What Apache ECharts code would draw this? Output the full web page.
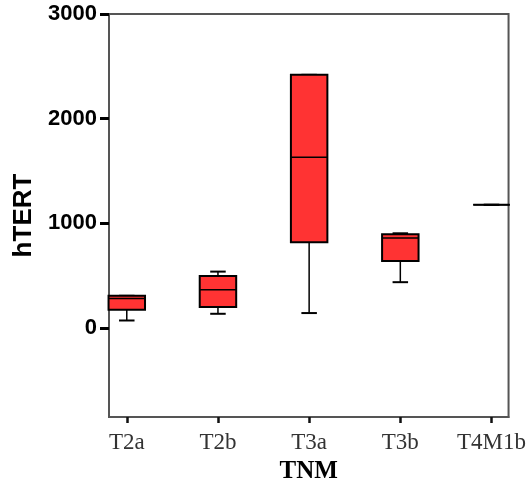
<!DOCTYPE html>
<html lang="en">
<head>
    <meta charset="UTF-8">
    <title>hTERT by TNM</title>
    <script src="https://cdn.jsdelivr.net/npm/echarts@6/dist/echarts.min.js"></script>
    <style>
        html, body { margin: 0; padding: 0; background: #fff; }
    </style>
</head>
<body>
<div id="main" style="width: 529px;height:495px;"></div>
<script type="text/javascript">
    // box statistics, one entry per TNM group
    var categories = ['T2a', 'T2b', 'T3a', 'T3b', 'T4M1b'];
    var lowWhisker = [72, 136, 143, 438, 1177];
    var q1Vals = [174, 200, 819, 641, 1177];
    var medians = [282, 365, 1631, 860, 1177];
    var q3Vals = [308, 498, 2419, 895, 1177];
    var highWhisker = [308, 539, 2419, 905, 1177];
    var yTicks = [0, 1000, 2000, 3000];

    var boxData = [];
    for (var i = 0; i < categories.length; i++) {
        boxData.push([i, lowWhisker[i], q1Vals[i], medians[i], q3Vals[i], highWhisker[i]]);
    }

    var myChart = echarts.init(document.getElementById('main'));

    function renderBox(params, api) {
        var x = api.value(0);
        var lo = api.coord([x, api.value(1)]);
        var q1 = api.coord([x, api.value(2)]);
        var med = api.coord([x, api.value(3)]);
        var q3 = api.coord([x, api.value(4)]);
        var hi = api.coord([x, api.value(5)]);
        var unit = api.size([1, 0])[0];
        var half = unit * 0.2;
        var cap = unit * 0.085;
        var cx = lo[0];
        var lineStyle = { stroke: '#000', lineWidth: 1.5 };
        return {
            type: 'group',
            children: [
                { type: 'line', shape: { x1: cx, y1: lo[1], x2: cx, y2: q1[1] }, style: lineStyle },
                { type: 'line', shape: { x1: cx, y1: q3[1], x2: cx, y2: hi[1] }, style: lineStyle },
                { type: 'line', shape: { x1: cx - cap, y1: lo[1], x2: cx + cap, y2: lo[1] }, style: { stroke: '#000', lineWidth: 2 } },
                { type: 'line', shape: { x1: cx - cap, y1: hi[1], x2: cx + cap, y2: hi[1] }, style: { stroke: '#000', lineWidth: 2 } },
                {
                    type: 'rect',
                    shape: { x: cx - half, y: q3[1], width: half * 2, height: q1[1] - q3[1] },
                    style: { fill: '#ff3333', stroke: '#000', lineWidth: 2 }
                },
                { type: 'line', shape: { x1: cx - half, y1: med[1], x2: cx + half, y2: med[1] }, style: lineStyle }
            ]
        };
    }

    myChart.setOption({
        animation: false,
        grid: {
            left: 109, right: 16, top: 14, bottom: 78,
            show: true, borderColor: '#555', borderWidth: 2
        },
        xAxis: {
            type: 'value',
            min: -0.195,
            max: 4.187,
            splitLine: { show: false },
            name: 'TNM',
            nameLocation: 'middle',
            nameGap: 42,
            nameTextStyle: { fontFamily: 'Liberation Serif', fontWeight: 'bold', fontSize: 25, color: '#000' },
            axisLine: { show: true, onZero: false, lineStyle: { color: '#555', width: 2 } },
            axisTick: { show: true, length: 6, customValues: [0, 1, 2, 3, 4], lineStyle: { color: '#111', width: 2.5 } },
            axisLabel: {
                customValues: [0, 1, 2, 3, 4],
                margin: 14,
                fontFamily: 'Liberation Serif',
                fontSize: 23,
                color: '#333',
                formatter: function (v) { return categories[Math.round(v)]; }
            }
        },
        yAxis: {
            type: 'value',
            min: -850,
            max: 3000,
            splitLine: { show: false },
            name: 'hTERT',
            nameLocation: 'middle',
            nameGap: 71,
            nameTextStyle: { fontFamily: 'Liberation Sans', fontWeight: 'bold', fontSize: 26, color: '#000' },
            axisLine: { show: true, onZero: false, lineStyle: { color: '#555', width: 2 } },
            axisTick: { show: true, length: 9, customValues: yTicks, lineStyle: { color: '#000', width: 3 } },
            axisLabel: {
                customValues: yTicks,
                margin: 12,
                fontFamily: 'Liberation Sans',
                fontWeight: 'bold',
                fontSize: 22,
                color: '#000',
                formatter: function (v) { return String(v); }
            }
        },
        series: [{
            type: 'custom',
            renderItem: renderBox,
            encode: { x: 0, y: [1, 2, 3, 4, 5] },
            data: boxData
        }]
    });
</script>
</body>
</html>
